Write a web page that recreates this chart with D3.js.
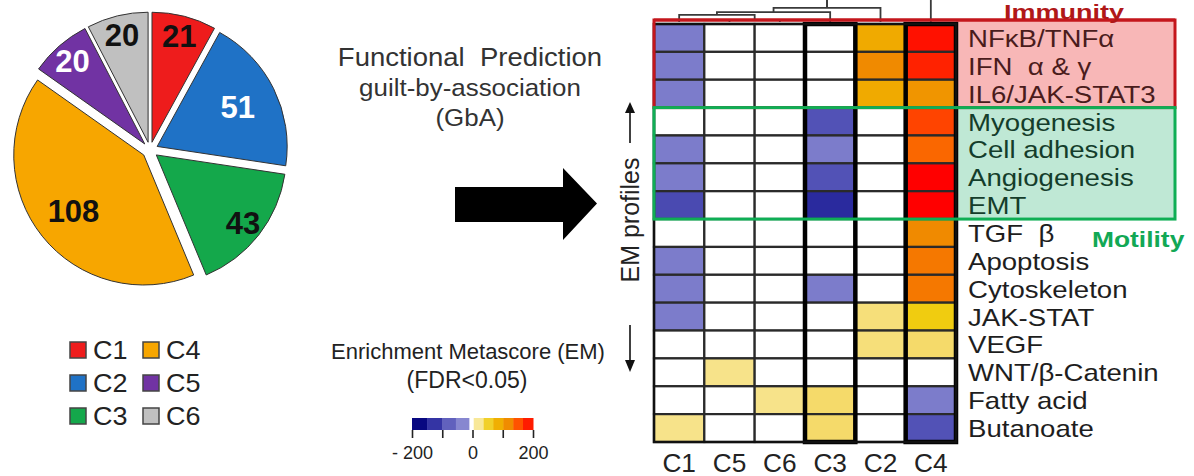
<!DOCTYPE html>
<html>
<head>
<meta charset="utf-8">
<script src="https://cdn.jsdelivr.net/npm/d3@7/dist/d3.min.js"></script>
<style>
  html, body { margin: 0; padding: 0; background: #fff; }
  svg { display: block; }
  text { font-family: "Liberation Sans", Arial, sans-serif; white-space: pre; }
</style>
</head>
<body>
<svg id="chart" width="1194" height="476"></svg>
<script>
// ---------------- DATA ----------------
const pieCategories = ["C1", "C2", "C3", "C4", "C5", "C6"];
const pieValues = [21, 51, 43, 108, 20, 20];
const pieColors = ["#ee1c1c", "#1f72c6", "#14a84b", "#f7a600", "#7133a3", "#c0c0c0"];
const pieLabelColors = ["#111", "#fff", "#111", "#111", "#fff", "#111"];

const heatColumns = ["C1", "C5", "C6", "C3", "C2", "C4"];
const heatRows = ["NFκB/TNFα", "IFN  α & γ", "IL6/JAK-STAT3", "Myogenesis", "Cell adhesion",
  "Angiogenesis", "EMT", "TGF  β", "Apoptosis", "Cytoskeleton", "JAK-STAT", "VEGF",
  "WNT/β-Catenin", "Fatty acid", "Butanoate"];
// Enrichment metascore per row, columns in heatColumns order (C1, C5, C6, C3, C2, C4)
const emNFkB        = [-60, 0, 0, 0, 90, 190];
const emIFN         = [-60, 0, 0, 0, 120, 180];
const emIL6         = [-60, 0, 0, 0, 90, 110];
const emMyogenesis  = [0, 0, 0, -110, 0, 160];
const emCellAdh     = [-60, 0, 0, -60, 0, 140];
const emAngio       = [-60, 0, 0, -110, 0, 200];
const emEMT         = [-118, 0, 0, -150, 0, 200];
const emTGFb        = [0, 0, 0, 0, 0, 120];
const emApoptosis   = [-60, 0, 0, 0, 0, 130];
const emCytoskel    = [-60, 0, 0, -60, 0, 130];
const emJAKSTAT     = [-60, 0, 0, 0, 30, 60];
const emVEGF        = [0, 0, 0, 0, 30, 35];
const emWNT         = [0, 25, 0, 0, 0, 0];
const emFattyAcid   = [0, 0, 25, 35, 0, -60];
const emButanoate   = [25, 0, 0, 35, 0, -110];
const emMatrix = [emNFkB, emIFN, emIL6, emMyogenesis, emCellAdh, emAngio, emEMT, emTGFb,
  emApoptosis, emCytoskel, emJAKSTAT, emVEGF, emWNT, emFattyAcid, emButanoate];

// dendrogram merges (node ids: leaf names or index of earlier merge), heights in arbitrary units
const dendroMerges = [
  { a: "C5", b: "C6", h: 1 },
  { a: "C1", b: 0, h: 3.2 },
  { a: 1, b: "C3", h: 4.5 },
  { a: 2, b: "C2", h: 6.4 },
  { a: 3, b: "C4", h: 12 }
];

const colorbarTicks = [-200, -100, 0, 100, 200];
const colorbarTickLabels = ["- 200", "", "0", "", "200"];
const colorbarNegBreaks = [-200, -150, -100, -55, -12];
const colorbarPosBreaks = [4, 37, 69, 102, 135, 167, 200];

const immunityRows = ["NFκB/TNFα", "IL6/JAK-STAT3"];
const motilityRows = ["Myogenesis", "EMT"];

// ---------------- SETUP ----------------
const svg = d3.select("#chart");
const FONT = '"Liberation Sans", Arial, sans-serif';

function sText(parent, x, y, str, o) {
  const g = parent.append("g").attr("transform", `translate(${x},${y}) scale(${o.sx || 1},1)${o.rot ? ` rotate(${o.rot})` : ""}`);
  return g.append("text")
    .attr("x", 0).attr("y", 0)
    .attr("text-anchor", o.anchor || "start")
    .attr("font-size", o.size)
    .attr("font-weight", o.weight || "normal")
    .attr("fill", o.fill || "#222")
    .text(str);
}

const emColor = d3.scaleLinear()
  .domain([-200, -150, -110, -60, -20, 20, 35, 60, 90, 120, 150, 200])
  .range(["#00007a", "#2a2a9e", "#5252b6", "#7c7ccb", "#a8a8de", "#f8e89a", "#f5da6a", "#f0cc10", "#f0aa00", "#f08a00", "#ff5500", "#ff0000"])
  .clamp(true);
const cellColor = v => v === 0 ? "#ffffff" : emColor(v);

// ---------------- PIE ----------------
const cx = 150, cy = 150, R = 130, explode = 8;
const pie = d3.pie().sort(null).value(d => d.v);
const pieData = pie(pieCategories.map((c, i) => ({ c, v: pieValues[i], i })));
const arc = d3.arc().innerRadius(0).outerRadius(R);
const pieG = svg.append("g").attr("transform", `translate(${cx},${cy})`);
pieData.forEach(d => {
  const mid = (d.startAngle + d.endAngle) / 2;
  const g = pieG.append("g").attr("transform", `translate(${Math.sin(mid) * explode},${-Math.cos(mid) * explode})`);
  g.append("path").attr("d", arc(d)).attr("fill", pieColors[d.data.i]).attr("stroke", "#333").attr("stroke-width", 1);
  const lr = d.data.v > 45 ? 90 : 110;
  const lx = Math.sin(mid) * lr, ly = -Math.cos(mid) * lr;
  g.append("text").attr("x", lx).attr("y", ly + 11)
    .attr("text-anchor", "middle").attr("font-size", 31).attr("font-weight", "bold")
    .attr("fill", pieLabelColors[d.data.i]).text(d.data.v);
});

// ---------------- LEGEND ----------------
const legG = svg.append("g");
pieCategories.forEach((c, i) => {
  const col = Math.floor(i / 3), row = i % 3;
  const x0 = 70 + col * 73, yc = 350 + row * 33;
  legG.append("rect").attr("x", x0).attr("y", yc - 8).attr("width", 16).attr("height", 16)
    .attr("fill", pieColors[i]).attr("stroke", "#444").attr("stroke-width", 1.5);
  sText(legG, x0 + 23, yc + 9, c, { size: 25, sx: 1.08, fill: "#222" });
});

// ---------------- MIDDLE TEXT & ARROWS ----------------
sText(svg, 470, 66, "Functional  Prediction", { size: 25, sx: 1.1, anchor: "middle", fill: "#333" });
sText(svg, 470, 96, "guilt-by-association", { size: 24, sx: 1.08, anchor: "middle", fill: "#333" });
sText(svg, 470, 126, "(GbA)", { size: 24, sx: 1.08, anchor: "middle", fill: "#333" });

svg.append("path")
  .attr("d", "M455,187 L563,187 L563,168 L597,203.5 L563,240 L563,222 L455,222 Z")
  .attr("fill", "#000");

sText(svg, 468, 359, "Enrichment Metascore (EM)", { size: 22, anchor: "middle", fill: "#222" });
sText(svg, 467, 388, "(FDR<0.05)", { size: 23, anchor: "middle", fill: "#222" });

// EM profiles vertical text + arrows
sText(svg, 639, 220, "EM profiles", { size: 25, anchor: "middle", fill: "#222", rot: -90 });
svg.append("line").attr("x1", 630).attr("x2", 630).attr("y1", 143).attr("y2", 110).attr("stroke", "#111").attr("stroke-width", 1.6);
svg.append("path").attr("d", "M630,102 L625,113 L635,113 Z").attr("fill", "#111");
svg.append("line").attr("x1", 630).attr("x2", 630).attr("y1", 325).attr("y2", 362).attr("stroke", "#111").attr("stroke-width", 1.6);
svg.append("path").attr("d", "M630,372 L625,360 L635,360 Z").attr("fill", "#111");

// ---------------- COLORBAR ----------------
const cbX = d3.scaleLinear().domain([-200, 200]).range([412, 533]);
const cbG = svg.append("g");
function cbBlocks(br) {
  for (let i = 0; i < br.length - 1; i++) {
    const mid = (br[i] + br[i + 1]) / 2;
    cbG.append("rect").attr("x", cbX(br[i])).attr("y", 418)
      .attr("width", cbX(br[i + 1]) - cbX(br[i]) + 0.5).attr("height", 12)
      .attr("fill", emColor(mid < 0 ? Math.min(mid - 15, -50) : mid));
  }
}
cbBlocks(colorbarNegBreaks);
cbBlocks(colorbarPosBreaks);
const cbAxis = d3.axisBottom(cbX).tickValues(colorbarTicks).tickSize(8).tickFormat((d, i) => colorbarTickLabels[i]);
const cbAx = cbG.append("g").attr("transform", "translate(0,430)").call(cbAxis);
cbAx.select(".domain").remove();
cbAx.selectAll(".tick line").attr("stroke", "#222").attr("stroke-width", 1.6);
cbAx.selectAll(".tick text").attr("font-size", 18).attr("font-family", FONT).attr("fill", "#222").attr("dy", "1.0em");

// ---------------- HEATMAP ----------------
const hx = d3.scaleBand().domain(heatColumns).range([654, 956]);
const hy = d3.scaleBand().domain(heatRows).range([24, 442]);
const labelRight = 1175;

// label area fills
const immTop = hy(immunityRows[0]) - 4, immBot = hy(immunityRows[1]) + hy.bandwidth();
const motTop = hy(motilityRows[0]), motBot = hy(motilityRows[1]) + hy.bandwidth();
svg.append("rect").attr("x", 956).attr("y", immTop).attr("width", labelRight - 956).attr("height", immBot - immTop).attr("fill", "#f8b7b7");
svg.append("rect").attr("x", 956).attr("y", motTop).attr("width", labelRight - 956).attr("height", motBot - motTop).attr("fill", "#bfe8d5");

const heatG = svg.append("g");
heatRows.forEach((r, ri) => {
  heatColumns.forEach((c, ci) => {
    heatG.append("rect")
      .attr("x", hx(c)).attr("y", hy(r)).attr("width", hx.bandwidth()).attr("height", hy.bandwidth())
      .attr("fill", cellColor(emMatrix[ri][ci]))
      .attr("stroke", "#2a2a2a").attr("stroke-width", 2.2);
  });
});
// thick column frames
["C3", "C4"].forEach(c => {
  heatG.append("rect").attr("x", hx(c)).attr("y", 24).attr("width", hx.bandwidth()).attr("height", 418)
    .attr("fill", "none").attr("stroke", "#000").attr("stroke-width", 4.5);
});
heatG.append("rect").attr("x", 654).attr("y", 24).attr("width", 302).attr("height", 418)
  .attr("fill", "none").attr("stroke", "#111").attr("stroke-width", 2.5);

// group boxes
svg.append("rect").attr("x", 654).attr("y", immTop).attr("width", labelRight - 654).attr("height", immBot - immTop)
  .attr("fill", "none").attr("stroke", "#c4161c").attr("stroke-width", 3);
svg.append("rect").attr("x", 654).attr("y", motTop).attr("width", labelRight - 654).attr("height", motBot - motTop)
  .attr("fill", "none").attr("stroke", "#0fae55").attr("stroke-width", 3);

// row labels
const rowLabG = svg.append("g");
heatRows.forEach((r, ri) => {
  const inImm = ri <= heatRows.indexOf(immunityRows[1]);
  const inMot = ri >= heatRows.indexOf(motilityRows[0]) && ri <= heatRows.indexOf(motilityRows[1]);
  sText(rowLabG, 968, hy(r) + hy.bandwidth() / 2 + 9, r, {
    size: 24, sx: 1.15, fill: inImm ? "#4a1c1c" : inMot ? "#143d2b" : "#1e1e1e"
  });
});

// column labels
heatColumns.forEach(c => {
  sText(svg, hx(c) + hx.bandwidth() / 2, 472, c, { size: 25, sx: 1.05, anchor: "middle", fill: "#222" });
});

// ---------------- DENDROGRAM ----------------
const dy = d3.scaleLinear().domain([0, 10]).range([22, 0]);
const nodeX = {};
heatColumns.forEach(c => nodeX[c] = hx(c) + hx.bandwidth() / 2);
const nodeH = {};
heatColumns.forEach(c => nodeH[c] = 0);
const dg = svg.append("g").attr("fill", "none").attr("stroke", "#3a3a3a").attr("stroke-width", 1.8);
dendroMerges.forEach((m, i) => {
  const xa = nodeX[m.a], xb = nodeX[m.b];
  const ya = dy(nodeH[m.a]), yb = dy(nodeH[m.b]), ym = dy(m.h);
  dg.append("path").attr("d", `M${xa},${ya} V${ym} H${xb} V${yb}`);
  nodeX[i] = (xa + xb) / 2;
  nodeH[i] = m.h;
});
dg.append("path").attr("d", `M${nodeX[3]},${dy(dendroMerges[3].h)} V${dy(dendroMerges[4].h)}`);
svg.append("line").attr("x1", 654).attr("x2", labelRight).attr("y1", immTop).attr("y2", immTop)
  .attr("stroke", "#c4161c").attr("stroke-width", 3);

// group titles (drawn last so they sit on top)
sText(svg, 1064, 19, "Immunity", { size: 20, sx: 1.35, weight: "bold", anchor: "middle", fill: "#b01818" });
sText(svg, 1092, 247, "Motility", { size: 22, sx: 1.2, weight: "bold", fill: "#12a855" });
</script>
</body>
</html>
